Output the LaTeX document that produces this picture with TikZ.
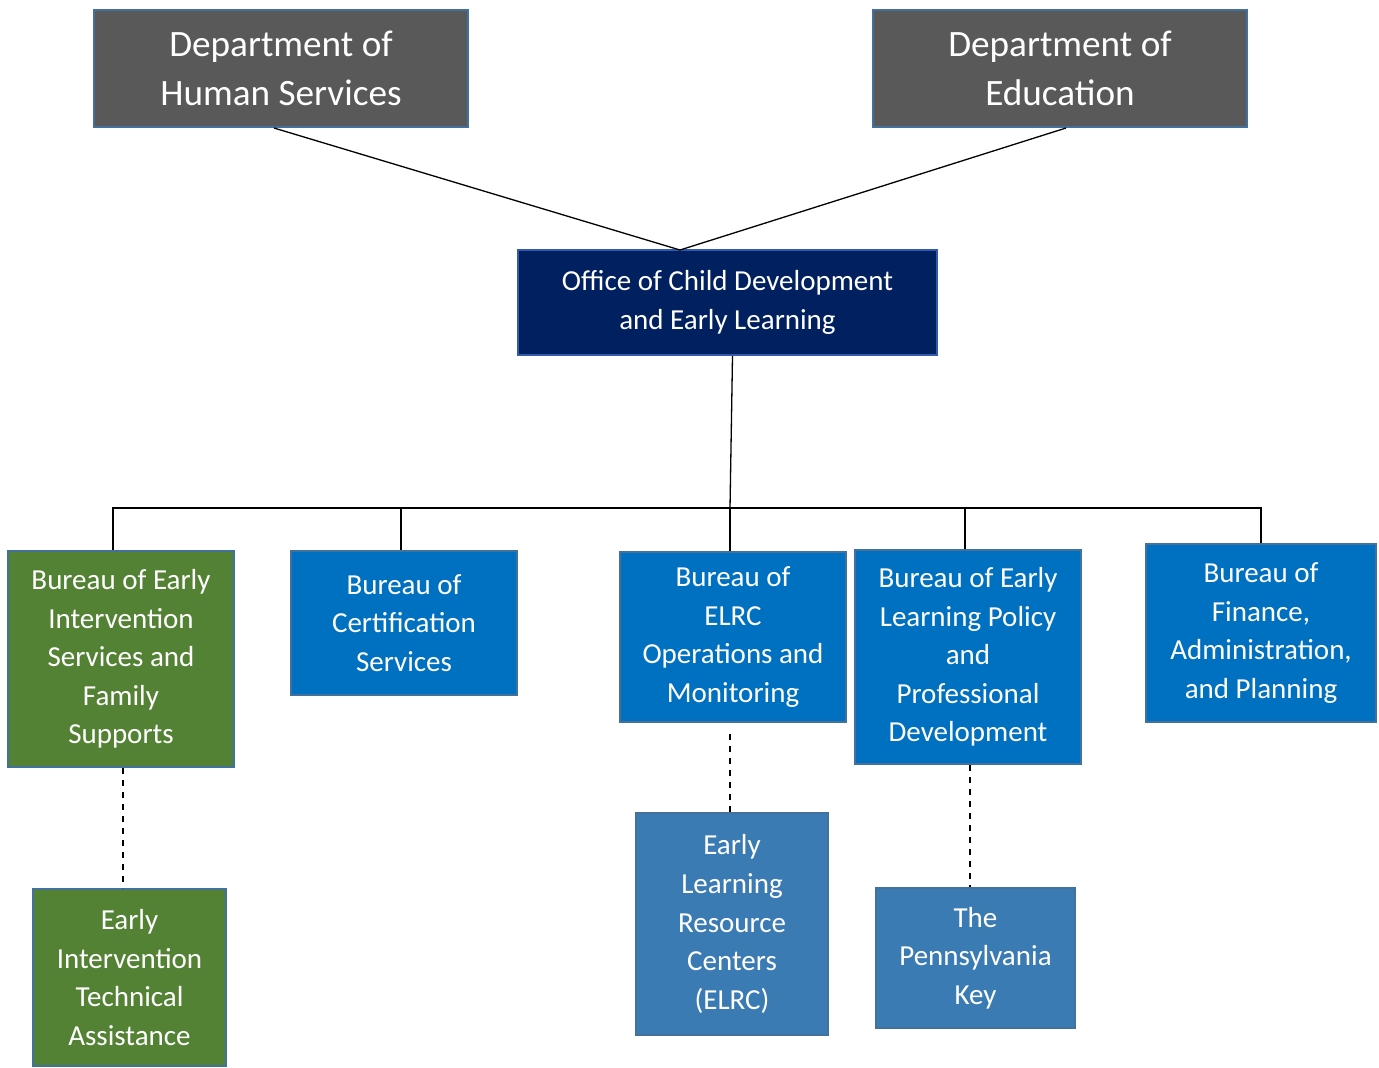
\documentclass[tikz,border=0pt]{standalone}
\usepackage{fontspec}
\setmainfont{Carlito}
\newlength{\du}
\setlength{\du}{0.5pt}
\definecolor{deptgray}{HTML}{595959}
\definecolor{officenavy}{HTML}{002060}
\definecolor{bureaublue}{HTML}{0070C0}
\definecolor{bureaugreen}{HTML}{548235}
\definecolor{unitblue}{HTML}{3B7BB4}
\definecolor{boxedge}{HTML}{41719C}
\tikzset{
  orgbox/.style={draw=boxedge, line width=2\du, text=white, align=center, inner sep=0pt,
    font=\fontsize{14.5}{19.3}\selectfont},
  deptbox/.style={orgbox, fill=deptgray, minimum width=374\du, minimum height=117\du,
    font=\fontsize{18.6}{24.5}\selectfont},
  officebox/.style={orgbox, fill=officenavy, draw=boxedge!80!blue},
  bureaubox/.style={orgbox, fill=bureaublue},
  greenbox/.style={orgbox, fill=bureaugreen},
  unitbox/.style={orgbox, fill=unitblue},
  link/.style={line width=0.65pt, black}
}

\begin{document}
\begin{tikzpicture}
\pgftransformxscale{1.000000}
\pgftransformyscale{-1.000000}
\useasboundingbox (0\du,0\du) rectangle (1379\du,1067\du);
% departments
\node[deptbox] (dhs) at (281\du,68.5\du) {Department of\\Human Services};
\node[deptbox] (doe) at (1060\du,68.5\du) {Department of\\Education};
% office
\node[officebox, minimum width=419\du, minimum height=105\du] (ocdel) at (727.5\du,302.5\du)
  {Office of Child Development\\and Early Learning};
\coordinate (join) at (680\du,250\du);
\draw[link] ([xshift=-7\du]dhs.south) -- (join);
\draw[link] ([xshift=6\du]doe.south) -- (join);
% bureaus
\node[greenbox, minimum width=226\du, minimum height=216\du] (eisfs) at (121\du,659\du)
  {Bureau of Early\\Intervention\\Services and\\Family\\Supports};
\node[bureaubox, minimum width=226\du, minimum height=144\du] (cert) at (404\du,623\du)
  {Bureau of\\Certification\\Services};
\node[bureaubox, minimum width=226\du, minimum height=170\du] (elrcom) at (733\du,637\du)
  {Bureau of\\ELRC\\Operations and\\Monitoring};
\node[bureaubox, minimum width=226\du, minimum height=214\du] (policy) at (968\du,657\du)
  {Bureau of Early\\Learning Policy\\and\\Professional\\Development};
\node[bureaubox, minimum width=230\du, minimum height=178\du] (finance) at (1261\du,633\du)
  {Bureau of\\Finance,\\Administration,\\and Planning};
\coordinate (bus) at (730\du,508\du);
\draw[link] ([xshift=5\du]ocdel.south) -- (bus);
\draw[link] ([xshift=-8\du]eisfs.north) |- (bus);
\draw[link] ([xshift=-3\du]cert.north) |- (bus);
\draw[link] ([xshift=-3\du]elrcom.north) -- (bus);
\draw[link] ([xshift=-3\du]policy.north) |- (bus);
\draw[link] (finance.north) |- (bus);
% units
\node[greenbox, minimum width=193\du, minimum height=177\du] (eita) at (129.5\du,977.5\du)
  {Early\\Intervention\\Technical\\Assistance};
\node[unitbox, minimum width=192\du, minimum height=222\du] (elrc) at (732\du,924\du)
  {Early\\Learning\\Resource\\Centers\\(ELRC)};
\node[unitbox, minimum width=199\du, minimum height=140\du] (pakey) at (975.5\du,958\du)
  {The\\Pennsylvania\\Key};
\draw[link, dashed] ([xshift=2\du]eisfs.south) -- ([xshift=2\du]eisfs.south |- eita.north);
\draw[link, dashed, shorten <=11\du] ([xshift=-3\du]elrcom.south) -- ([xshift=-3\du]elrcom.south |- elrc.north);
\draw[link, dashed] ([xshift=2\du]policy.south) -- ([xshift=2\du]policy.south |- pakey.north);
\end{tikzpicture}
\end{document}
